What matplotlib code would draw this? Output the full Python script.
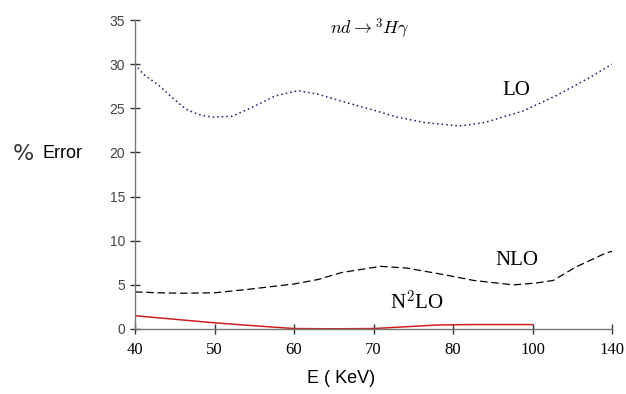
import matplotlib
matplotlib.use("Agg")
import matplotlib.pyplot as plt

plt.rcParams["mathtext.fontset"] = "cm"

# x axis is categorical: equally spaced labels
e_labels = ["40", "50", "60", "70", "80", "100", "140"]

# curves in tick-position coordinates (0 = 40 KeV ... 6 = 140 KeV)
lo_x = [0.0, 0.1, 0.3, 0.47, 0.64, 0.8, 0.97, 1.22, 1.47, 1.76, 2.05, 2.3, 2.6, 3.0, 3.3, 3.64, 4.08, 4.4, 4.88, 5.29, 5.7, 6.0]
lo_y = [30.0, 28.9, 27.6, 26.2, 24.9, 24.3, 24.0, 24.1, 25.1, 26.4, 27.0, 26.6, 25.8, 24.8, 24.0, 23.4, 23.0, 23.4, 24.7, 26.4, 28.4, 30.0]

nlo_x = [0.0, 0.3, 0.6, 1.0, 1.43, 2.0, 2.3, 2.6, 3.09, 3.42, 3.92, 4.26, 4.76, 5.04, 5.26, 5.54, 5.92, 6.0]
nlo_y = [4.2, 4.1, 4.05, 4.1, 4.5, 5.1, 5.6, 6.4, 7.1, 6.9, 6.1, 5.5, 5.0, 5.2, 5.5, 7.0, 8.6, 8.8]

n2lo_x = [0.0, 0.5, 1.0, 1.6, 2.0, 2.5, 3.0, 3.4, 3.8, 4.2, 5.0]
n2lo_y = [1.5, 1.1, 0.7, 0.3, 0.05, 0.02, 0.05, 0.25, 0.45, 0.5, 0.5]

fig = plt.figure(figsize=(6.26, 3.94), dpi=100)
ax = fig.add_axes([0.2157, 0.165, 0.762, 0.784])

ax.plot(lo_x, lo_y, color="#1a1a6e", linestyle=(0, (1, 2)), linewidth=1.1)
ax.plot(nlo_x, nlo_y, color="black", linestyle=(0, (6, 3)), linewidth=0.9)
ax.plot(n2lo_x, n2lo_y, color="#cc1f1f", linewidth=1.1)

ax.set_xlim(0, 6.0)
ax.set_ylim(0, 35)
ax.set_xticks(range(len(e_labels)))
ax.set_xticklabels(e_labels, fontfamily="Liberation Serif", fontsize=12)
ax.set_yticks([0, 5, 10, 15, 20, 25, 30, 35])
for lab in ax.get_yticklabels():
    lab.set_fontfamily("Liberation Sans")
    lab.set_fontsize(10)
    lab.set_color("#444444")

for s in ["top", "right"]:
    ax.spines[s].set_visible(False)
for s in ["left", "bottom"]:
    ax.spines[s].set_color("#777777")
    ax.spines[s].set_linewidth(1.0)
ax.tick_params(axis="both", direction="inout", length=7, width=1.0, color="#333333")
ax.tick_params(axis="x", pad=6)

ax.text(4.8, 27.0, "LO", fontfamily="Liberation Serif", fontsize=15, ha="center", va="center")
ax.text(4.8, 7.8, "NLO", fontfamily="Liberation Serif", fontsize=15, ha="center", va="center")
ax.text(3.55, 3.0, r"N$^2$LO", fontfamily="Liberation Serif", fontsize=15, ha="center", va="center")
ax.text(2.95, 34.0, r"$nd \rightarrow {}^3H\gamma$", fontsize=13, ha="center", va="center")

fig.text(0.02, 0.61, "%", fontfamily="DejaVu Sans", fontsize=16, color="#333333", va="center")
fig.text(0.068, 0.61, "Error", fontfamily="Liberation Sans", fontsize=13, va="center")
fig.text(0.545, 0.04, "E ( KeV)", fontfamily="Liberation Sans", fontsize=13, ha="center", va="center")

fig.savefig("out.png", dpi=100)
